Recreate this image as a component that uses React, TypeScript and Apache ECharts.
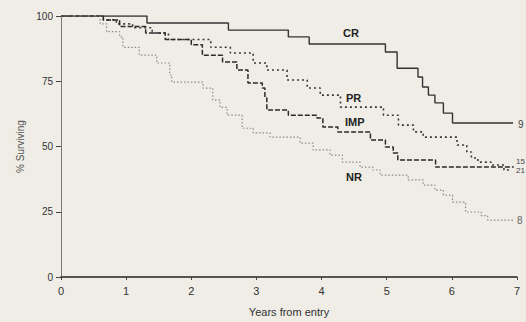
import React, { useEffect, useRef } from "react";
import * as echarts from "echarts";

const xTicks = [0, 1, 2, 3, 4, 5, 6, 7];
const yTicks = [0, 25, 50, 75, 100];

const crTimes = [0, 1.32, 2.57, 3.49, 3.81, 4.98, 5.16, 5.48, 5.55, 5.64, 5.74, 5.87, 6.01, 6.94];
const crSurv = [100, 97.3, 94.6, 92.0, 89.3, 86.2, 80.0, 76.6, 72.8, 69.7, 66.7, 62.8, 59.0, 59.0];

const prTimes = [0, 0.65, 0.85, 1.1, 1.4, 1.65, 2.3, 2.6, 2.95, 3.16, 3.47, 3.78, 3.98, 4.29, 4.95, 5.18, 5.41, 5.56, 6.08, 6.23, 6.3, 6.4, 6.6, 6.8, 6.9];
const prSurv = [100, 98.5, 97, 95.5, 93.5, 91, 88, 85.8, 82, 79.3, 75.5, 72.4, 69.7, 65.1, 62, 58.2, 55.6, 53.6, 50.6, 47.9, 45.6, 44, 42.9, 41, 41];

const impTimes = [0, 0.65, 0.9, 1.3, 1.6, 2.0, 2.17, 2.48, 2.7, 2.87, 3.09, 3.13, 3.16, 3.49, 3.93, 4.02, 4.25, 4.75, 4.98, 5.1, 5.17, 5.75, 6.95];
const impSurv = [100, 98.5, 96, 93.5, 91, 89, 85, 82.4, 79.3, 74.3, 72.4, 68.6, 64, 62, 60.9, 57.5, 55.6, 52.5, 49.8, 47.5, 44.8, 42.1, 42.1];

const nrTimes = [0, 0.6, 0.7, 0.9, 0.95, 1.2, 1.47, 1.67, 1.7, 2.18, 2.33, 2.44, 2.55, 2.78, 2.95, 3.21, 3.67, 3.87, 4.13, 4.32, 4.59, 4.79, 4.9, 5.33, 5.56, 5.74, 5.87, 6.01, 6.21, 6.45, 6.55, 6.94];
const nrSurv = [100, 97, 94, 92, 88, 85, 82, 77.4, 74.7, 72.4, 67.8, 65, 62, 57, 55.2, 53.6, 51.3, 48.7, 46.7, 44, 42.1, 41, 39, 37.2, 35.2, 33.3, 31.4, 28.7, 24.9, 23.5, 21.8, 21.8];

const groupNames = ["CR", "PR", "IMP", "NR"];
const atRisk = ["9", "15", "21", "8"];

const pairs = (t: number[], s: number[]) => t.map((v, i) => [v, s[i]]);

export default function App() {
  const ref = useRef<HTMLDivElement>(null);
  useEffect(() => {
    if (!ref.current) return;
    const chart = echarts.init(ref.current, null, { renderer: "svg" });
    const font = "'Liberation Sans', Arial, sans-serif";
    const labelFont = "'Liberation Sans Narrow', 'Liberation Sans', Arial, sans-serif";
    const mk = (name: string, data: number[][], color: string, type: any, width: number) => ({
      name,
      type: "line",
      step: "end",
      data,
      symbol: "none",
      lineStyle: { color, type, width },
      z: 3,
    });
    chart.setOption({
      animation: false,
      backgroundColor: "#efede6",
      grid: { left: 61, right: 9, top: 16, bottom: 45 },
      xAxis: {
        type: "value",
        min: 0,
        max: 7,
        interval: 1,
        name: "Years from entry",
        nameLocation: "middle",
        nameGap: 29,
        nameTextStyle: { fontFamily: font, fontSize: 11, color: "#333" },
        axisLine: { lineStyle: { color: "#222", width: 1.5 } },
        axisTick: { show: true, length: 3, lineStyle: { color: "#444" } },
        axisLabel: { fontFamily: font, fontSize: 11, color: "#333", margin: 8, formatter: (v: number) => (xTicks.includes(v) ? String(v) : "") },
        splitLine: { show: false },
      },
      yAxis: {
        type: "value",
        min: 0,
        max: 100,
        interval: 25,
        name: "% Surviving",
        nameLocation: "middle",
        nameGap: 36,
        nameTextStyle: { fontFamily: font, fontSize: 10, color: "#555" },
        axisLine: { show: true, lineStyle: { color: "#777", width: 1 } },
        axisTick: { show: true, length: 5, lineStyle: { color: "#444" } },
        axisLabel: { fontFamily: font, fontSize: 10, color: "#333", margin: 8, formatter: (v: number) => (yTicks.includes(v) ? String(v) : "") },
        splitLine: { show: false },
      },
      series: [
        mk(groupNames[0], pairs(crTimes, crSurv), "#333", "solid", 1.4),
        mk(groupNames[1], pairs(prTimes, prSurv), "#3a3a3a", [2, 3], 1.6),
        mk(groupNames[2], pairs(impTimes, impSurv), "#2a2a2a", [5, 2], 1.5),
        mk(groupNames[3], pairs(nrTimes, nrSurv), "#8a8a8a", [1.5, 2], 1.2),
      ],
      graphic: [
        { type: "text", left: 343, top: 27, style: { text: groupNames[0], font: `bold 11px ${labelFont}`, fill: "#222" } },
        { type: "text", left: 346, top: 92, style: { text: groupNames[1], font: `bold 11px ${labelFont}`, fill: "#222" } },
        { type: "text", left: 345, top: 116, style: { text: groupNames[2], font: `bold 11px ${labelFont}`, fill: "#222" } },
        { type: "text", left: 346, top: 171, style: { text: groupNames[3], font: `bold 11px ${labelFont}`, fill: "#222" } },
        { type: "text", left: 518, top: 119, style: { text: atRisk[0], font: `10px ${font}`, fill: "#444" } },
        { type: "text", left: 516, top: 157, style: { text: atRisk[1], font: `8px ${font}`, fill: "#444" } },
        { type: "text", left: 516, top: 166, style: { text: atRisk[2], font: `8px ${font}`, fill: "#444" } },
        { type: "text", left: 517, top: 215, style: { text: atRisk[3], font: `10px ${font}`, fill: "#666" } },
      ],
    });
    return () => chart.dispose();
  }, []);
  return <div ref={ref} style={{ position: "fixed", left: 0, top: 0, width: 526, height: 322 }} />;
}
